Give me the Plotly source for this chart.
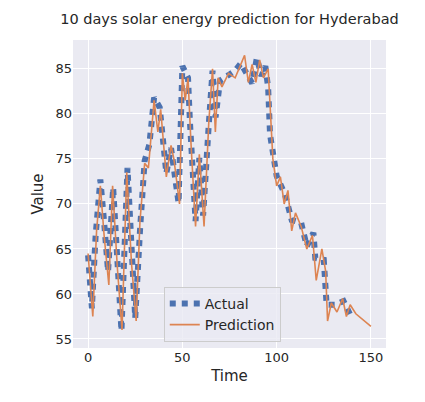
import plotly.graph_objects as go

# values
t_actual = [0, 2, 4, 6.5, 8.5, 10.6, 13.3, 15.5, 17.7, 20.9, 23, 25, 27.6, 30, 32.5, 35, 38,
            41.5, 44, 46, 48, 50, 53, 54, 57, 59, 61, 64, 66, 67.6, 70, 74.5, 78, 81, 84,
            87, 89.5, 92, 94, 95.5, 96.5, 98.5, 100, 104.5, 108, 113, 116, 119.5, 120.5,
            125, 126, 126.5, 131, 135.5, 139]
actual = [64.3, 58.4, 66.5, 72.7, 68.0, 62.5, 71.8, 64.0, 55.9, 74.0, 65.0, 57.3, 67.3, 74.8,
          76.6, 81.8, 80.7, 73.4, 76.2, 73.0, 70.1, 85.3, 84.0, 79.2, 68.1, 75.1, 68.7, 78.8,
          84.8, 79.6, 83.7, 84.3, 84.8, 85.6, 84.5, 83.4, 86.2, 84.2, 85.3, 82.9, 77.7, 75.3,
          73.1, 71.0, 68.2, 67.9, 65.3, 66.8, 64.0, 63.8, 61.0, 58.8, 58.8, 59.2, 57.7]

t_pred = [0, 2.5, 4.5, 6.5, 8.5, 11, 13, 15.5, 18, 20.5, 23, 25.5, 27.5, 30, 32, 35, 37, 38.5,
          41.5, 44, 45.5, 48.5, 50, 51.5, 53, 54.5, 57, 59, 61.5, 64, 66, 67.5, 69, 71, 74.5,
          78, 81, 83, 85, 87, 89, 91, 93, 95.5, 98, 100, 102, 104, 106, 108, 110, 113, 116,
          119, 121, 124, 126, 127, 129, 132, 135, 137, 139, 142, 150]
pred = [64.5, 57.5, 67.0, 72.0, 66.5, 61.0, 72.0, 63.0, 56.0, 73.5, 63.5, 57.0, 68.0, 74.5,
        74.0, 81.5, 78.0, 80.5, 73.0, 76.5, 75.0, 70.0, 84.5, 81.5, 84.0, 77.0, 67.5, 75.5,
        67.5, 79.0, 85.0, 78.0, 84.0, 83.0, 84.5, 84.0, 85.5, 86.5, 83.5, 85.5, 83.5, 86.0,
        84.0, 85.0, 75.0, 72.0, 73.0, 70.0, 71.5, 67.0, 69.0, 67.5, 65.0, 66.5, 61.5, 65.0,
        62.5, 57.0, 59.0, 58.0, 59.5, 57.5, 58.8, 57.8, 56.4]

fig = go.Figure()
fig.add_trace(go.Scatter(x=t_actual, y=actual, mode='lines', name='Actual',
                         line=dict(color='#4C72B0', width=6, dash='6px,6px')))
fig.add_trace(go.Scatter(x=t_pred, y=pred, mode='lines', name='Prediction',
                         line=dict(color='#DD8452', width=1.6)))

fig.update_layout(
    width=425, height=402, autosize=False,
    margin=dict(l=65, r=47, t=32, b=62, autoexpand=False),
    paper_bgcolor='white', plot_bgcolor='#EAEAF2',
    font=dict(family='DejaVu Sans', size=13, color='#262626'),
    title=dict(text='10 days solar energy prediction for Hyderabad', x=0.5, xanchor='center',
               xref='paper', y=0.985, yanchor='top', font=dict(size=14.5)),
    legend=dict(x=0.29, y=0.02, xanchor='left', yanchor='bottom',
                bgcolor='rgba(234,234,242,0.8)', bordercolor='#cccccc', borderwidth=1,
                font=dict(size=14)),
)
fig.update_xaxes(title_text='Time', range=[-8, 158], tickvals=[0, 50, 100, 150],
                 gridcolor='white', gridwidth=1, zeroline=False, showline=False,
                 title_font=dict(size=15), tickfont=dict(size=13), title_standoff=6)
fig.update_yaxes(title_text='Value', range=[54, 88.2], tickvals=[55, 60, 65, 70, 75, 80, 85],
                 gridcolor='white', gridwidth=1, zeroline=False, showline=False,
                 title_font=dict(size=15), tickfont=dict(size=13), title_standoff=8)

fig.write_html("out.html")
